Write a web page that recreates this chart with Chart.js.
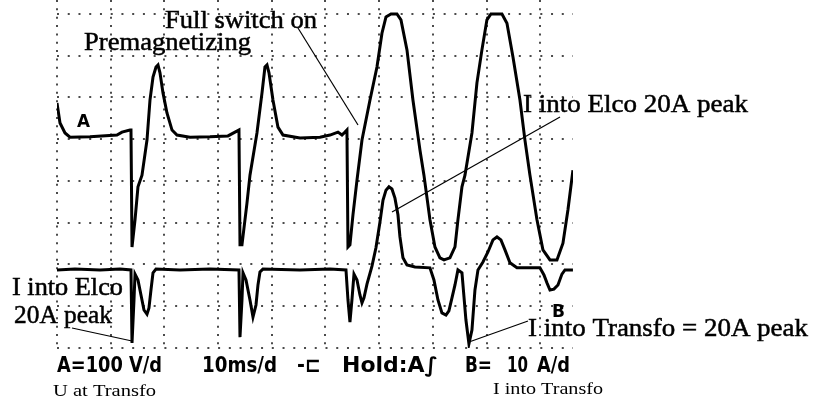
<!DOCTYPE html>
<html>
<head>
<meta charset="utf-8">
<script src="https://cdn.jsdelivr.net/npm/chart.js@4.4.0/dist/chart.umd.min.js"></script>
<style>
  body { margin: 0; background: #fff; }
  #wrap { width: 825px; height: 403px; }
</style>
</head>
<body>
<div id="wrap"><canvas id="scope" width="825" height="403"></canvas></div>
<script>
// time axis in ms (10 ms/div), vertical axis in screen divisions
const timeA = [0, 0.56, 1.49, 2.42, 6.15, 11.17, 12.10, 13.59, 13.78, 13.97, 14.15, 14.53, 15.08, 15.83, 16.76, 17.32, 17.88, 18.44, 18.81, 19.18, 19.74, 20.48, 21.42, 22.35, 24.77, 28.49, 31.84, 33.15, 33.89, 34.08, 34.45, 35.38, 35.94, 37.24, 38.18, 38.73, 39.11, 39.48, 40.22, 41.15, 42.09, 45.25, 48.98, 50.84, 52.33, 53.07, 53.63, 54.00, 54.19, 54.56, 55.12, 55.87, 56.80, 58.29, 59.59, 60.52, 61.27, 62.20, 63.31, 64.06, 65.18, 66.29, 67.60, 68.34, 69.46, 70.39, 71.32, 72.07, 73.18, 74.12, 74.67, 75.42, 75.98, 77.28, 78.21, 79.14, 80.07, 80.82, 82.87, 83.80, 84.92, 86.22, 87.15, 88.08, 89.39, 90.50, 91.81, 93.11, 94.23, 95.16, 96.09];
const traceA = [5.87, 5.39, 5.15, 5.05, 5.06, 5.10, 5.17, 5.22, 5.22, 2.42, 2.42, 3.07, 3.86, 4.14, 4.98, 5.94, 6.49, 6.73, 6.78, 6.59, 6.11, 5.63, 5.22, 5.10, 5.05, 5.06, 5.08, 5.17, 5.22, 2.47, 2.47, 3.47, 4.14, 5.15, 6.11, 6.73, 6.78, 6.59, 5.94, 5.29, 5.10, 5.03, 5.05, 5.10, 5.17, 5.10, 5.17, 5.22, 2.42, 2.47, 3.19, 4.02, 4.98, 5.94, 6.73, 7.54, 7.93, 8.00, 8.00, 7.86, 7.14, 5.94, 4.74, 4.14, 3.07, 2.42, 2.16, 2.11, 2.16, 2.42, 3.07, 3.86, 4.14, 5.15, 6.35, 7.14, 7.86, 8.00, 8.00, 7.78, 6.97, 5.94, 4.98, 4.14, 3.07, 2.35, 2.11, 2.11, 2.51, 3.31, 4.26];

const timeB = [0, 3.35, 8.01, 11.73, 13.78, 13.97, 14.34, 14.53, 15.08, 15.64, 16.20, 16.76, 17.13, 17.50, 17.88, 18.44, 22.91, 28.49, 33.89, 34.08, 34.45, 34.64, 35.20, 35.94, 36.50, 37.06, 37.43, 37.80, 38.36, 45.25, 50.84, 53.82, 54.19, 54.56, 54.93, 55.31, 55.87, 56.42, 56.80, 57.17, 57.73, 58.66, 59.40, 60.15, 60.71, 61.27, 61.82, 62.38, 62.94, 63.50, 63.87, 64.43, 65.18, 66.67, 69.46, 70.20, 70.95, 71.69, 72.44, 72.99, 73.56, 74.12, 74.67, 75.42, 76.16, 76.72, 77.28, 77.84, 78.40, 79.33, 80.26, 81.19, 81.94, 82.68, 83.43, 84.36, 85.66, 89.94, 90.69, 91.25, 91.81, 92.55, 93.30, 94.04, 94.60, 96.09];
const traceB = [1.87, 1.89, 1.87, 1.89, 1.87, 0.12, 1.15, 1.77, 1.63, 1.27, 0.91, 0.81, 0.96, 1.39, 1.80, 1.89, 1.87, 1.89, 1.87, 0.26, 1.15, 1.80, 1.63, 1.15, 0.74, 1.03, 1.51, 1.82, 1.89, 1.87, 1.89, 1.87, 1.15, 0.62, 1.15, 1.77, 1.63, 1.27, 1.08, 1.20, 1.53, 1.96, 2.40, 3.02, 3.54, 3.78, 3.86, 3.81, 3.59, 3.19, 2.66, 2.16, 1.99, 1.94, 1.92, 1.63, 1.15, 0.84, 0.79, 0.89, 1.20, 1.51, 1.87, 1.80, 0.67, 0.10, 0.43, 1.39, 1.87, 2.06, 2.30, 2.59, 2.66, 2.59, 2.35, 2.04, 1.92, 1.92, 1.75, 1.56, 1.39, 1.41, 1.51, 1.77, 1.87, 1.87];

const timeMax = 96.1;
const divMax = 8.335;

function toPoints(xs, ys) {
    return xs.map((x, i) => ({x: x, y: ys[i]}));
}

// draw text squeezed/stretched to a given width, with a thin outline to darken it
function fitText(ctx, str, x, y, font, width, outline) {
    ctx.save();
    ctx.font = font;
    const w = ctx.measureText(str).width;
    ctx.translate(x, y);
    ctx.scale(width / w, 1);
    ctx.fillText(str, 0, 0);
    if (outline) {
        ctx.lineWidth = outline;
        ctx.strokeText(str, 0, 0);
    }
    ctx.restore();
}

function line(ctx, x1, y1, x2, y2) {
    ctx.beginPath();
    ctx.moveTo(x1, y1);
    ctx.lineTo(x2, y2);
    ctx.stroke();
}

const labels = {
    id: 'labels',
    afterDraw(chart) {
        const ctx = chart.ctx;
        ctx.save();
        ctx.fillStyle = '#000';
        ctx.strokeStyle = '#000';
        ctx.lineWidth = 1;
        ctx.textBaseline = 'alphabetic';

        const serif = '26px "Liberation Serif"';
        fitText(ctx, 'Full switch on', 165, 28, serif, 152, 0.5);
        fitText(ctx, 'Premagnetizing', 84, 50, serif, 167, 0.5);
        fitText(ctx, 'I into Elco 20A peak', 523, 112, serif, 225, 0.5);
        fitText(ctx, 'I into Elco', 12, 295, serif, 111, 0.5);
        fitText(ctx, '20A peak', 14, 323, serif, 98, 0.5);
        fitText(ctx, 'I into Transfo = 20A peak', 528, 336, serif, 280, 0.5);
        fitText(ctx, 'U at Transfo', 53, 396, '16px "Liberation Serif"', 103);
        fitText(ctx, 'I into Transfo', 493, 394, '16px "Liberation Serif"', 110);

        ctx.lineWidth = 1.2;
        line(ctx, 298, 28, 358, 125);
        line(ctx, 560, 117, 392, 212);
        line(ctx, 72, 328, 132, 341);
        line(ctx, 528, 321, 469, 342);

        // scope channel markers and status line
        const bold = 'bold 18px "DejaVu Sans"';
        fitText(ctx, 'A', 77, 127, bold, 13);
        fitText(ctx, 'B', 552, 317, bold, 13);
        const status = 'bold 21px "DejaVu Sans"';
        fitText(ctx, 'A=100 V/d', 57, 372, status, 105);
        fitText(ctx, '10ms/d', 202, 372, status, 75);
        fitText(ctx, '-⊏', 297, 372, status, 24);
        fitText(ctx, 'Hold:A∫', 342, 372, status, 96);
        fitText(ctx, 'B=', 465, 372, status, 27);
        fitText(ctx, '10', 507, 372, status, 21);
        fitText(ctx, 'A/d', 537, 372, status, 33);
        ctx.restore();
    }
};

const ctx = document.getElementById('scope').getContext('2d');
const scopeChart = new Chart(ctx, {
    type: 'line',
    data: {
        datasets: [{
            label: 'U at Transfo',
            data: toPoints(timeA, traceA),
            borderColor: '#000',
            borderWidth: 3,
            pointRadius: 0,
            tension: 0
        }, {
            label: 'I into Transfo',
            data: toPoints(timeB, traceB),
            borderColor: '#000',
            borderWidth: 3,
            pointRadius: 0,
            tension: 0
        }]
    },
    options: {
        responsive: false,
        animation: false,
        layout: {
            padding: {left: 57, right: 252, top: 0, bottom: 55}
        },
        plugins: {
            legend: {display: false},
            tooltip: {enabled: false}
        },
        scales: {
            x: {
                type: 'linear',
                min: 0,
                max: timeMax,
                ticks: {display: false, stepSize: 10, includeBounds: false},
                grid: {color: 'rgba(30,30,30,0.8)', lineWidth: 2, drawTicks: false},
                border: {display: false, dash: [2, 6.35]}
            },
            y: {
                min: 0,
                max: divMax,
                ticks: {display: false, stepSize: 1, includeBounds: false},
                grid: {color: 'rgba(30,30,30,0.8)', lineWidth: 2, drawTicks: false},
                border: {display: false, dash: [2, 8.74]}
            }
        }
    },
    plugins: [labels]
});
</script>
</body>
</html>
